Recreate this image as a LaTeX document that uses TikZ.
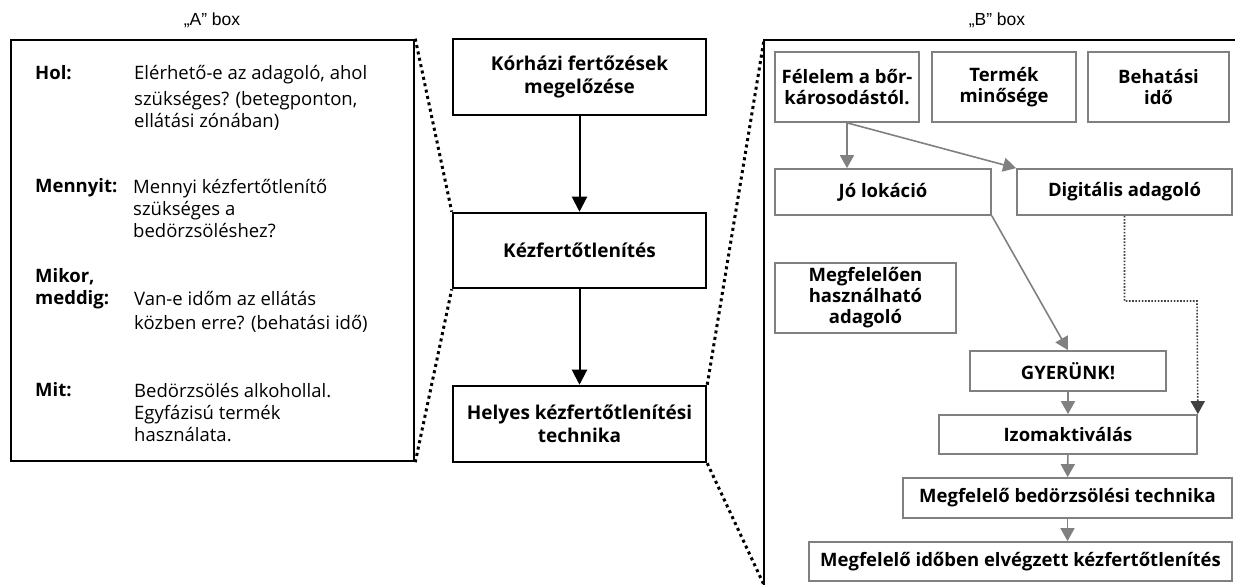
\documentclass[tikz,border=0pt]{standalone}
\usepackage{fontspec}
\setmainfont{Open Sans}
\newfontfamily\capfont{Liberation Sans}
\usepackage{xcolor}
\usetikzlibrary{arrows.meta}
\definecolor{boxgray}{RGB}{128,128,128}
\definecolor{dotgray}{RGB}{64,64,64}

\begin{document}
\begin{tikzpicture}[x=1pt,y=-1pt]
  \tikzstyle{boxcap}=[font=\capfont\fontsize{17.5}{20}\selectfont] % box captions
  \tikzstyle{blk}=[draw, line width=2.5pt, align=center, minimum width=253pt, minimum height=76pt, font=\bfseries\fontsize{19}{22.5}\selectfont] % main chain
  \tikzstyle{lbl}=[anchor=west, inner sep=0pt, text height=13pt, text depth=4pt, font=\bfseries\fontsize{18.5}{22}\selectfont] % questions in box A
  \tikzstyle{txt}=[anchor=north west, inner sep=0pt, align=left, font=\fontsize{18.5}{22}\selectfont] % answers in box A
  \tikzstyle{gbox}=[draw=boxgray, line width=1.7pt, align=center, inner sep=2pt, font=\bfseries\fontsize{18.5}{21}\selectfont] % factors in box B
  \tikzstyle{barrow}=[line width=2pt, -{Triangle[length=15pt,width=15pt]}]
  \tikzstyle{garrow}=[draw=boxgray, line width=1.6pt, -{Triangle[length=13pt,width=14pt]}]
  \tikzstyle{dgarrow}=[draw=dotgray, line width=1.6pt, dash pattern=on 1.6pt off 1.6pt, -{Triangle[length=13pt,width=14pt]}]
  \tikzstyle{zoomline}=[line width=3pt, dash pattern=on 3pt off 3.5pt] % zoom lines

  \useasboundingbox (0,0) rectangle (1235,585);

  % box A
  \node[boxcap] (acap) at (212,20) {„A” box};
  \node[draw, line width=2.5pt, minimum width=403pt, minimum height=421pt] (abox) at (212.5,250.5) {};
  \node[lbl] (hol) at (35,75) {Hol:};
  \node[txt] (holtxt) at (134,65) {Elérhető-e az adagoló, ahol\\[4pt]szükséges? (betegponton,\\ellátási zónában)};
  \node[lbl] (mennyit) at (35,188) {Mennyit:};
  \node[txt] (mennyittxt) at (133,179) {Mennyi kézfertőtlenítő\\szükséges a\\bedörzsöléshez?};
  \node[lbl] (mikor) at (35,278) {Mikor,};
  \node[lbl] (meddig) at (35,300) {meddig:};
  \node[txt] (meddigtxt) at (134,291) {Van-e időm az ellátás\\[2pt]közben erre? (behatási idő)};
  \node[lbl] (mit) at (35,392) {Mit:};
  \node[txt] (mittxt) at (134,383) {Bedörzsölés alkohollal.\\Egyfázisú termék\\használata.};

  % main chain
  \node[blk] (korhaz) at (579.5,77) {Kórházi fertőzések\\megelőzése};
  \node[blk, minimum height=75pt] (kez) at (579.5,250.5) {Kézfertőtlenítés};
  \node[blk] (helyes) at (579.5,424) {Helyes kézfertőtlenítési\\technika};
  \draw[barrow] (korhaz) -- (kez);
  \draw[barrow] (kez) -- (helyes);

  % box B
  \node[boxcap] (bcap) at (997,20) {„B” box};
  \coordinate (bnw) at (764,40);
  \coordinate (bsw) at (764,585);
  \coordinate (bne) at (1235,40);
  \draw[line width=2.5pt] (bsw) -- (bnw) -- (bne);

  \draw[zoomline] (abox.north east) -- (kez.north west);
  \draw[zoomline] (abox.south east) -- (kez.south west);
  \draw[zoomline] (helyes.north east) -- (bnw);
  \draw[zoomline] (helyes.south east) -- (bsw);

  \node[gbox, minimum width=144pt, minimum height=70pt] (felelem) at (847,87) {Félelem a bőr-\\károsodástól.};
  \node[gbox, minimum width=144pt, minimum height=70pt] (termek) at (1004,87) {Termék\\minősége};
  \node[gbox, minimum width=141pt, minimum height=70pt] (behatas) at (1158.5,87) {Behatási\\idő};
  \node[gbox, minimum width=216pt, minimum height=46pt] (jo) at (883,192) {Jó lokáció};
  \node[gbox, minimum width=215pt, minimum height=46pt] (digit) at (1124.5,192) {Digitális adagoló};
  \node[gbox, minimum width=181pt, minimum height=70pt] (hasznal) at (865.5,298) {Megfelelően\\használható\\adagoló};
  \node[gbox, minimum width=196pt, minimum height=40pt] (gyerunk) at (1068,371) {GYERÜNK!};
  \node[gbox, minimum width=258pt, minimum height=39pt] (izom) at (1068,434.5) {Izomaktiválás};
  \node[gbox, minimum width=329pt, minimum height=40pt] (technika) at (1067.5,498) {Megfelelő bedörzsölési technika};
  \node[gbox, minimum width=423pt, minimum height=39pt] (idoben) at (1020.5,561.5) {Megfelelő időben elvégzett kézfertőtlenítés};

  \coordinate (bend) at (1197,301);
  \draw[garrow] (felelem.south) -- (felelem.south |- jo.north);
  \draw[garrow] (felelem.south) -- (digit.north west);
  \draw[garrow] (jo.south east) -- (gyerunk.north);
  \draw[dgarrow] (digit.south) |- (bend) -- (izom.north east);
  \draw[garrow] (gyerunk) -- (izom);
  \draw[garrow] (izom) -- (technika);
  \draw[garrow] (technika.south) -- (technika.south |- idoben.north);
\end{tikzpicture}
\end{document}
